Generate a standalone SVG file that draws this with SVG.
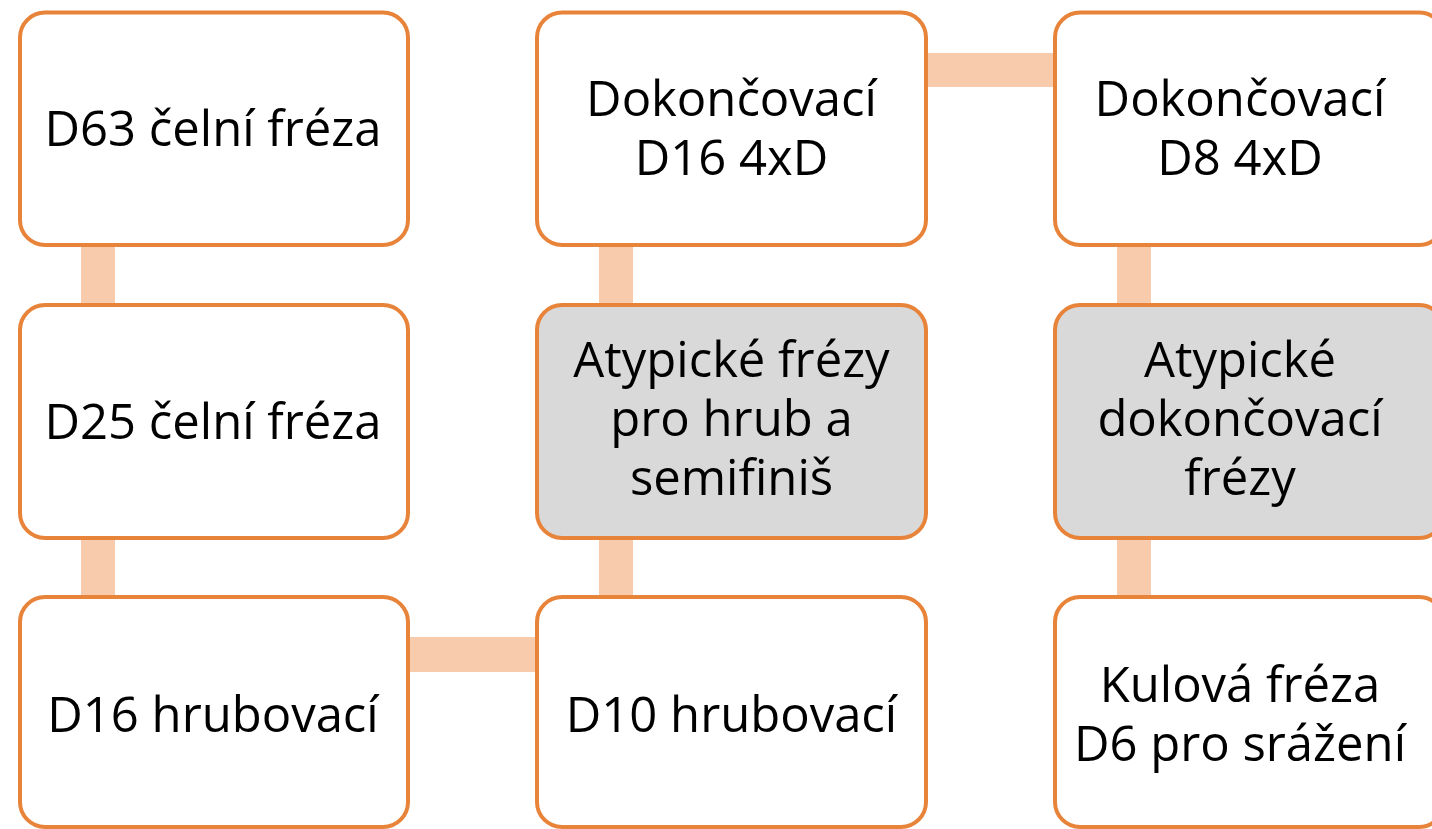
<svg xmlns="http://www.w3.org/2000/svg" width="1432" height="829" viewBox="0 0 1432 829">
  <style>
    .box { fill: #ffffff; stroke: #E8833A; stroke-width: 4; }
    .box.grey { fill: #D9D9D9; }
    .link { fill: #F8CBAD; }
    text { font-family: "Open Sans", "Liberation Sans", sans-serif; font-size: 49px; fill: #000000; text-anchor: middle; }
  </style>

  <!-- snake-path connectors, drawn beneath the boxes -->
  <g id="connectors">
    <rect class="link" x="81" y="240" width="34" height="362"/>
    <rect class="link" x="404" y="637" width="137" height="35"/>
    <rect class="link" x="599" y="240" width="34" height="362"/>
    <rect class="link" x="922" y="53" width="137" height="34"/>
    <rect class="link" x="1117" y="240" width="34" height="362"/>
  </g>

  <!-- column 1 -->
  <g id="n-d63">
    <rect class="box" x="20" y="12.5" width="388" height="232.5" rx="25"/>
    <text x="213" y="146">D63 čelní fréza</text>
  </g>
  <g id="n-d25">
    <rect class="box" x="20" y="305" width="388" height="233" rx="25"/>
    <text x="213" y="439">D25 čelní fréza</text>
  </g>
  <g id="n-d16h">
    <rect class="box" x="20" y="597" width="388" height="230" rx="25"/>
    <text x="213" y="732">D16 hrubovací</text>
  </g>

  <!-- column 2 -->
  <g id="n-d10h">
    <rect class="box" x="537" y="597" width="389" height="230" rx="25"/>
    <text x="731.5" y="732">D10 hrubovací</text>
  </g>
  <g id="n-atyp-hrub">
    <rect class="box grey" x="537" y="305" width="389" height="233" rx="25"/>
    <text x="731.5" y="377">Atypické frézy</text>
    <text x="731.5" y="436">pro hrub a</text>
    <text x="731.5" y="495">semifiniš</text>
  </g>
  <g id="n-dok16">
    <rect class="box" x="537" y="12.5" width="389" height="232.5" rx="25"/>
    <text x="731.5" y="116">Dokončovací</text>
    <text x="731.5" y="175">D16 4xD</text>
  </g>

  <!-- column 3 -->
  <g id="n-dok8">
    <rect class="box" x="1055" y="12.5" width="389" height="232.5" rx="25"/>
    <text x="1240" y="116">Dokončovací</text>
    <text x="1240" y="175">D8 4xD</text>
  </g>
  <g id="n-atyp-dok">
    <rect class="box grey" x="1055" y="305" width="389" height="233" rx="25"/>
    <text x="1240" y="377">Atypické</text>
    <text x="1240" y="436">dokončovací</text>
    <text x="1240" y="495">frézy</text>
  </g>
  <g id="n-kulova">
    <rect class="box" x="1055" y="597" width="389" height="230" rx="25"/>
    <text x="1240" y="702">Kulová fréza</text>
    <text x="1240" y="761">D6 pro srážení</text>
  </g>
</svg>
